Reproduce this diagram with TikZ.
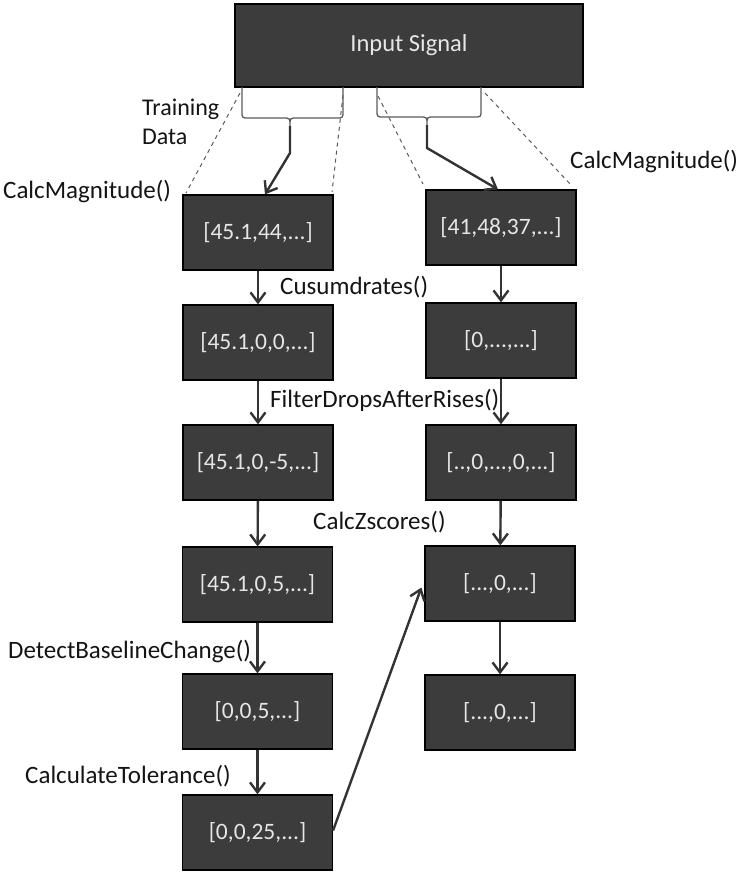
\documentclass[tikz,border=0pt]{standalone}
\usepackage{fontspec}
\setmainfont{Carlito}
\usetikzlibrary{arrows.meta,calc}
\definecolor{boxfill}{HTML}{3C3C3C}
\definecolor{boxtext}{HTML}{E6E6E6}
\definecolor{linegray}{HTML}{333333}
\definecolor{thingray}{HTML}{5A5A5A}
\begin{document}
\begin{tikzpicture}[x=1pt,y=-1pt,
  databox/.style={draw=black, line width=1.2pt, fill=boxfill, text=boxtext,
    minimum width=150pt, minimum height=75pt, inner sep=0pt,
    font=\fontsize{23.5}{27}\selectfont},
  lbl/.style={anchor=west, inner sep=0pt, text=black!92, font=\fontsize{25}{28}\selectfont},
  flow/.style={draw=linegray, line width=2.4pt, -{Straight Barb[length=10pt,width=15pt,line width=2.4pt]}},
  bracestyle/.style={draw=thingray, line width=1.3pt},
  zoomline/.style={draw=thingray, line width=1pt, dash pattern=on 4pt off 4pt}
]
\useasboundingbox (0,0) rectangle (740,873);

% input
\node[databox, minimum width=348pt, minimum height=83pt, font=\fontsize{24.5}{28}\selectfont] (inp) at (409,45.5) {Input Signal};

% left column
\node[databox] (L1) at (258,232.5) {[45.1,44,...]};
\node[databox] (L2) at (258,342.5) {[45.1,0,0,...]};
\node[databox] (L3) at (258,462.5) {[45.1,0,-5,...]};
\node[databox] (L4) at (257.5,584.5) {[45.1,0,5,...]};
\node[databox] (L5) at (257.5,711.5) {[0,0,5,...]};
\node[databox] (L6) at (257.5,832.5) {[0,0,25,...]};

% right column
\node[databox] (R1) at (501,227.5) {[41,48,37,...]};
\node[databox] (R2) at (501,340.5) {[0,...,...]};
\node[databox] (R3) at (501,462.5) {[..,0,...,0,...]};
\node[databox] (R4) at (500,583.5) {[...,0,...]};
\node[databox] (R5) at (500,712.5) {[...,0,...]};

% labels
\node[lbl, align=left, font=\fontsize{24}{29}\selectfont] (train) at (142,122) {Training\\Data};
\node[lbl] (cm1) at (3,192) {CalcMagnitude()};
\node[lbl] (cm2) at (570,162) {CalcMagnitude()};
\node[lbl] (cus) at (280,287) {Cusumdrates()};
\node[lbl] (fil) at (270,400) {FilterDropsAfterRises()};
\node[lbl] (czs) at (313,522) {CalcZscores()};
\node[lbl] (dbc) at (8,651) {DetectBaselineChange()};
\node[lbl] (ctl) at (25,776) {CalculateTolerance()};

% zoom dashed lines
\coordinate (dl1a) at (240,93);  \coordinate (dl1b) at (186,193);
\coordinate (dl2a) at (343,95);  \coordinate (dl2b) at (332,192);
\coordinate (dr1a) at (378,96);  \coordinate (dr1b) at (423,184);
\coordinate (dr2a) at (485,93);  \coordinate (dr2b) at (572,186);
\draw[zoomline] (dl1a) -- (dl1b);
\draw[zoomline] (dl2a) -- (dl2b);
\draw[zoomline] (dr1a) -- (dr1b);
\draw[zoomline] (dr2a) -- (dr2b);

% braces
\coordinate (lcusp) at (290,126);
\coordinate (lbend) at (290,153);
\draw[bracestyle] (242,87) -- (242,111) .. controls (242,118) .. (249,118) -- (283,118)
  .. controls (290,118) .. (lcusp) .. controls (290,118) .. (297,118) -- (336,118)
  .. controls (343,118) .. (343,111) -- (343,87);
\coordinate (rcusp) at (427,125);
\coordinate (rbend) at (427,148);
\draw[bracestyle] (377,87) -- (377,110) .. controls (377,117) .. (384,117) -- (420,117)
  .. controls (427,117) .. (rcusp) .. controls (427,117) .. (434,117) -- (474,117)
  .. controls (481,117) .. (481,110) -- (481,87);

\draw[flow] (lcusp) -- (lbend) -- ($(L1.north)+(7,0)$);
\draw[flow] (rcusp) -- (rbend) -- ($(R1.north)+(-3,0)$);

% column arrows
\draw[flow] (L1) -- (L2);
\draw[flow] (L2) -- (L3);
\draw[flow] (L3) -- (L4);
\draw[flow] (L4) -- (L5);
\draw[flow] (L5) -- (L6);
\draw[flow] (R1) -- (R2);
\draw[flow] (R2) -- (R3);
\draw[flow] (R3) -- (R4);
\draw[flow] (R4) -- (R5);

% cross arrow
\draw[flow] ($(L6.east)+(0,-2)$) -- ($(R4.west)+(-3,4)$);
\end{tikzpicture}
\end{document}
